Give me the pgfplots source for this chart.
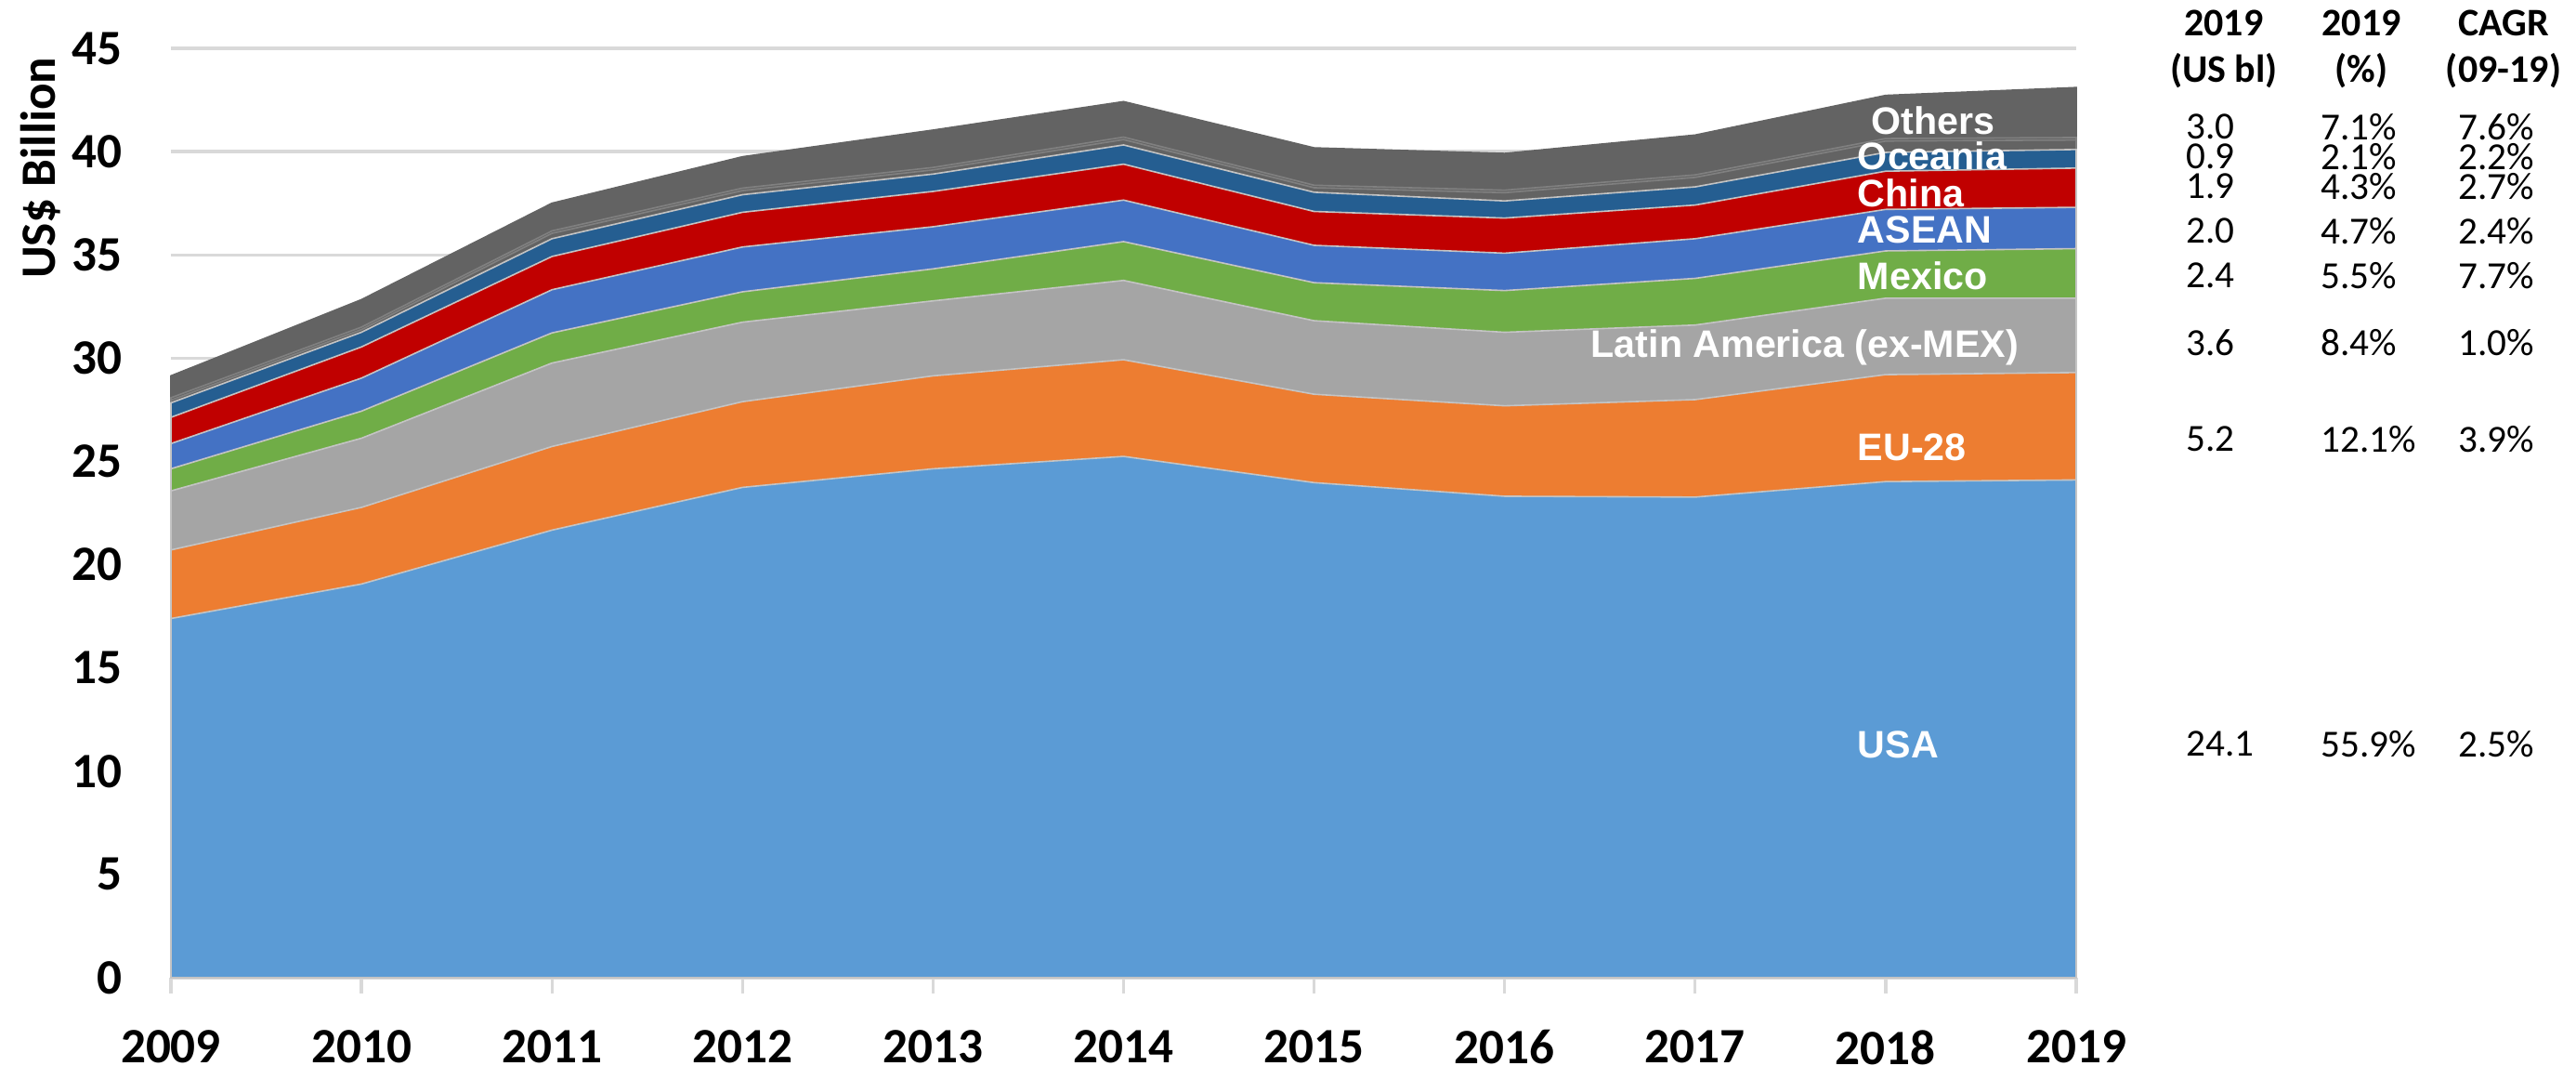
\documentclass[border=0pt]{standalone}
\usepackage{fontspec}
\setmainfont{Carlito}
\newfontfamily\arialfont{Liberation Sans}
\usepackage{pgfplots}
\pgfplotsset{compat=1.18}
\definecolor{cusa}{HTML}{5B9BD5}
\definecolor{ceu}{HTML}{ED7D31}
\definecolor{clat}{HTML}{A5A5A5}
\definecolor{cmex}{HTML}{70AD47}
\definecolor{casean}{HTML}{4472C4}
\definecolor{cchina}{HTML}{C00000}
\definecolor{coce}{HTML}{255E91}
\definecolor{coth}{HTML}{636363}
\definecolor{gridgrey}{HTML}{D9D9D9}
\definecolor{edge}{HTML}{C4C4C4}
\tikzset{
  lbl/.style={font=\arialfont\bfseries\fontsize{10.3}{12}\selectfont, text=white, inner sep=0pt, anchor=west},
  hdr/.style={font=\bfseries\fontsize{10.5}{12}\selectfont, inner sep=0pt, anchor=center},
  val/.style={font=\fontsize{10.3}{12}\selectfont, inner sep=0pt, anchor=west},
}

\begin{document}
\begin{tikzpicture}
\begin{axis}[scale only axis, width=512.75pt, height=250pt,
  xmin=2009, xmax=2019, ymin=0, ymax=45,
  xtick={2009,2010,...,2019}, ytick={0,5,...,45},
  clip=false,
  axis x line*=bottom, axis y line*=left,
  x axis line style={draw=gridgrey, line width=0.8pt},
  y axis line style={draw=none},
  ymajorgrids, grid style={draw=gridgrey, line width=0.8pt},
  tick align=outside, major tick length=4.2pt,
  xtick style={draw=gridgrey, line width=0.8pt},
  ytick style={draw=none},
  /pgf/number format/assume math mode=true,
  tick label style={font=\bfseries\fontsize{13.3}{16}\selectfont, inner sep=0pt},
  x tick label style={/pgf/number format/1000 sep={}, anchor=north, yshift=-9.75pt},
  y tick label style={anchor=east, xshift=-8.75pt},
]
% cumulative tops of the stacked areas, drawn from the top layer down
% Others (total)
\addplot[fill=coth, draw=coth, line width=0.4pt] coordinates {(2009,29.14)(2010,32.83)(2011,37.50)(2012,39.75)(2013,41.04)(2014,42.42)(2015,40.18)(2016,39.91)(2017,40.80)(2018,42.72)(2019,43.10)} \closedcycle;
% two small regions inside "Others"
\addplot[fill=coth, draw=gray, line width=0.4pt] coordinates {(2009,28.08)(2010,31.50)(2011,36.16)(2012,38.23)(2013,39.23)(2014,40.70)(2015,38.37)(2016,38.13)(2017,38.87)(2018,40.63)(2019,40.68)} \closedcycle;
\addplot[fill=coth, draw=gray, line width=0.4pt] coordinates {(2009,27.96)(2010,31.38)(2011,36.04)(2012,38.11)(2013,39.11)(2014,40.58)(2015,38.25)(2016,38.01)(2017,38.75)(2018,40.51)(2019,40.56)} \closedcycle;
% Oceania
\addplot[fill=coce, draw=edge, line width=0.4pt] coordinates {(2009,27.83)(2010,31.25)(2011,35.78)(2012,37.91)(2013,38.91)(2014,40.32)(2015,38.03)(2016,37.61)(2017,38.29)(2018,39.96)(2019,40.10)} \closedcycle;
% China
\addplot[fill=cchina, draw=edge, line width=0.4pt] coordinates {(2009,27.13)(2010,30.54)(2011,34.92)(2012,37.06)(2013,38.07)(2014,39.39)(2015,37.10)(2016,36.78)(2017,37.41)(2018,39.05)(2019,39.20)} \closedcycle;
% ASEAN
\addplot[fill=casean, draw=edge, line width=0.4pt] coordinates {(2009,25.86)(2010,29.03)(2011,33.31)(2012,35.38)(2013,36.36)(2014,37.65)(2015,35.46)(2016,35.08)(2017,35.78)(2018,37.20)(2019,37.30)} \closedcycle;
% Mexico
\addplot[fill=cmex, draw=edge, line width=0.4pt] coordinates {(2009,24.64)(2010,27.43)(2011,31.22)(2012,33.21)(2013,34.32)(2014,35.64)(2015,33.65)(2016,33.27)(2017,33.86)(2018,35.19)(2019,35.30)} \closedcycle;
% Latin America (ex-MEX)
\addplot[fill=clat, draw=edge, line width=0.4pt] coordinates {(2009,23.57)(2010,26.12)(2011,29.76)(2012,31.74)(2013,32.77)(2014,33.76)(2015,31.81)(2016,31.25)(2017,31.60)(2018,32.90)(2019,32.90)} \closedcycle;
% EU-28
\addplot[fill=ceu, draw=edge, line width=0.4pt] coordinates {(2009,20.71)(2010,22.77)(2011,25.72)(2012,27.89)(2013,29.14)(2014,29.92)(2015,28.25)(2016,27.69)(2017,27.99)(2018,29.20)(2019,29.30)} \closedcycle;
% USA
\addplot[fill=cusa, draw=edge, line width=0.4pt] coordinates {(2009,17.39)(2010,19.06)(2011,21.67)(2012,23.74)(2013,24.64)(2014,25.24)(2015,23.97)(2016,23.31)(2017,23.27)(2018,24.02)(2019,24.10)} \closedcycle;

% labels inside the areas
\node[lbl] at (axis cs:2017.92,41.5) {Others};
\node[lbl] at (axis cs:2017.85,39.8) {Oceania};
\node[lbl] at (axis cs:2017.85,38.0) {China};
\node[lbl] at (axis cs:2017.85,36.2) {ASEAN};
\node[lbl] at (axis cs:2017.85,34.0) {Mexico};
\node[lbl] at (axis cs:2016.45,30.5) {Latin America (ex-MEX)};
\node[lbl] at (axis cs:2017.85,25.7) {EU-28};
\node[lbl] at (axis cs:2017.85,11.3) {USA};

% table on the right
\node[hdr] at (axis cs:2019.775,46.2) {2019};
\node[hdr] at (axis cs:2019.775,43.93) {(US bl)};
\node[hdr] at (axis cs:2020.497,46.2) {2019};
\node[hdr] at (axis cs:2020.497,43.93) {(\%)};
\node[hdr] at (axis cs:2021.243,46.2) {CAGR};
\node[hdr] at (axis cs:2021.243,43.93) {(09-19)};

\node[val] at (axis cs:2019.573,41.2) {3.0};   \node[val] at (axis cs:2020.280,41.2) {7.1\%};   \node[val] at (axis cs:2021.002,41.2) {7.6\%};
\node[val] at (axis cs:2019.573,39.77) {0.9};  \node[val] at (axis cs:2020.280,39.77) {2.1\%};  \node[val] at (axis cs:2021.002,39.77) {2.2\%};
\node[val] at (axis cs:2019.573,38.33) {1.9};  \node[val] at (axis cs:2020.280,38.33) {4.3\%};  \node[val] at (axis cs:2021.002,38.33) {2.7\%};
\node[val] at (axis cs:2019.573,36.17) {2.0};  \node[val] at (axis cs:2020.280,36.17) {4.7\%};  \node[val] at (axis cs:2021.002,36.17) {2.4\%};
\node[val] at (axis cs:2019.573,34.0) {2.4};   \node[val] at (axis cs:2020.280,34.0) {5.5\%};   \node[val] at (axis cs:2021.002,34.0) {7.7\%};
\node[val] at (axis cs:2019.573,30.73) {3.6};  \node[val] at (axis cs:2020.280,30.73) {8.4\%};  \node[val] at (axis cs:2021.002,30.73) {1.0\%};
\node[val] at (axis cs:2019.573,26.08) {5.2};  \node[val] at (axis cs:2020.280,26.08) {12.1\%}; \node[val] at (axis cs:2021.002,26.08) {3.9\%};
\node[val] at (axis cs:2019.573,11.33) {24.1}; \node[val] at (axis cs:2020.280,11.33) {55.9\%}; \node[val] at (axis cs:2021.002,11.33) {2.5\%};

% y axis title near the top
\node[rotate=90, font=\bfseries\fontsize{13.3}{16}\selectfont, inner sep=0pt] at (axis cs:2008.315,39.2) {US\$ Billion};

\coordinate (bl) at (axis cs:2008.103,-4.27);
\coordinate (tr) at (axis cs:2021.623,47.34);
\end{axis}
\pgfresetboundingbox
\path (bl) rectangle (tr);
\end{tikzpicture}
\end{document}
